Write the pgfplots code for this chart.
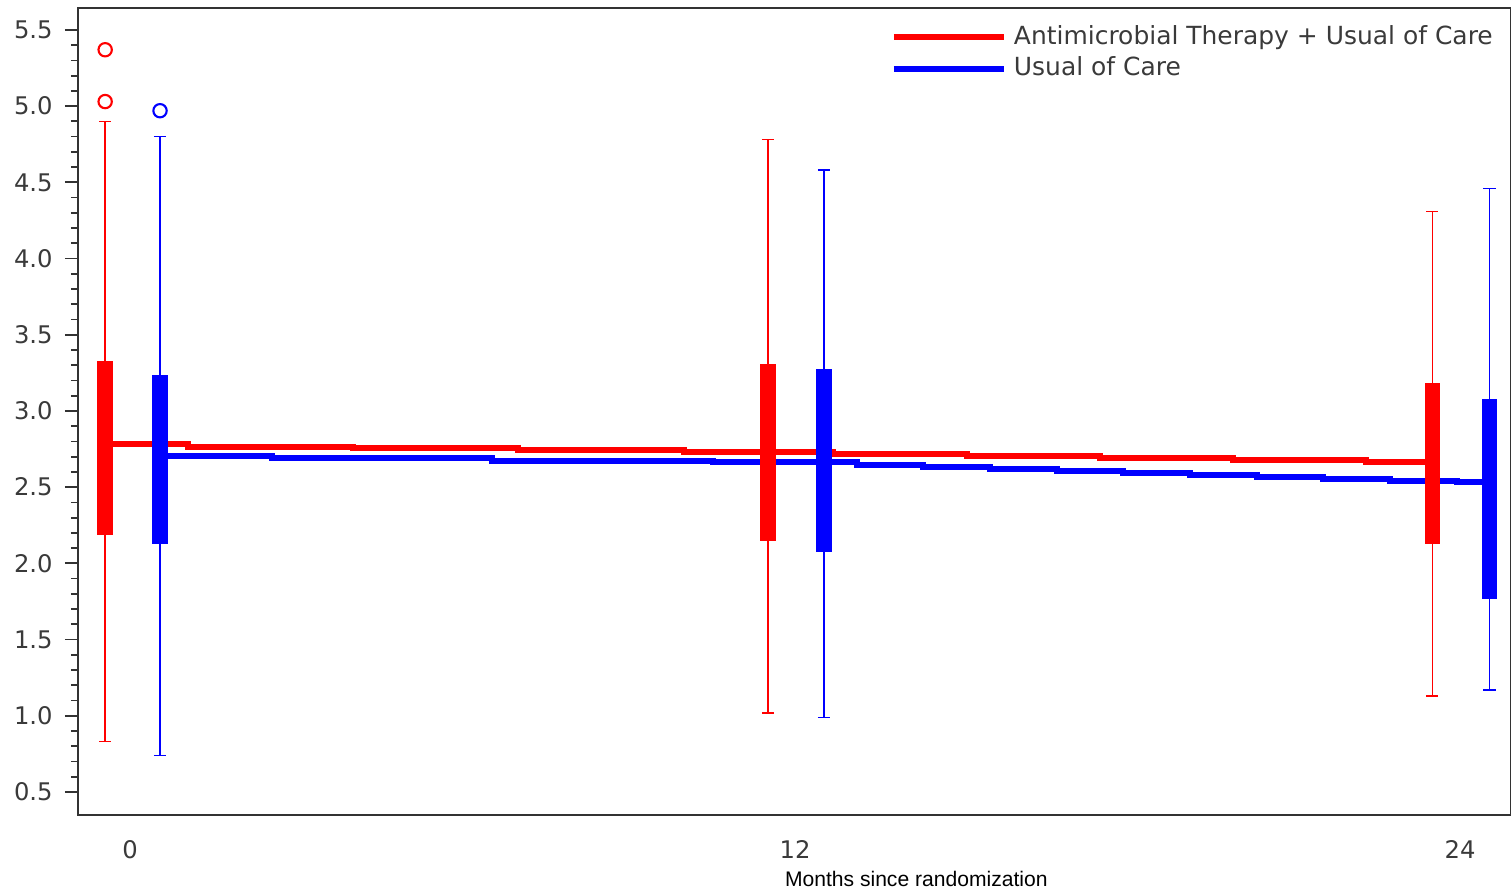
\documentclass[border=0pt]{standalone}
\usepackage{fontspec}
\setmainfont{DejaVu Sans}
\newfontfamily\arialfont{Liberation Sans}
\usepackage{pgfplots}
\usepgfplotslibrary{statistics}
\pgfplotsset{compat=1.18}

\definecolor{axgray}{HTML}{333333}
\definecolor{lblgray}{HTML}{3A3A3A}

\begin{document}
\begin{tikzpicture}
\useasboundingbox (-7.8mm,-7.8mm) rectangle (143.3mm,81.5mm);
\begin{axis}[
  at={(0,0)}, anchor=south west,
  scale only axis, width=143.3mm, height=80.7mm,
  xmin=-0.94, xmax=24.92, ymin=0.349, ymax=5.644,
  xtick={0,12,24},
  ytick={0.5,1.0,1.5,2.0,2.5,3.0,3.5,4.0,4.5,5.0,5.5},
  minor y tick num=4,
  tick align=outside,
  major tick length=1.3mm, minor tick length=0.7mm,
  xtick style={draw=none},
  ytick style={axgray, line width=0.5pt},
  minor tick style={axgray, line width=0.5pt},
  axis line style={axgray, line width=0.6pt},
  /pgf/number format/assume math mode=true,
  yticklabel style={/pgf/number format/.cd, fixed, fixed zerofill, precision=1},
  tick label style={font=\fontsize{6.9}{8}\selectfont, text=lblgray},
  xlabel={Months since randomization},
  every axis x label/.style={at={(axis description cs:0.585,-0.079)}, anchor=center,
    font=\arialfont\fontsize{6}{7}\selectfont},
  legend style={draw=none, fill=none, at={(1.0,0.997)}, anchor=north east,
    font=\fontsize{7.1}{8.3}\selectfont, text=lblgray, row sep=-2pt},
  legend cell align=left,
  legend image code/.code={\draw[#1] (0mm,0mm) -- (11mm,0mm);},
  boxplot/draw direction=y,
]
% step lines (mean trajectories)
\addplot[const plot, red, line width=1.7pt] coordinates {
  (-0.45,2.784) (1.05,2.764) (4.02,2.757) (7.0,2.744) (10.0,2.731)
  (12.68,2.718) (15.1,2.705) (17.5,2.692) (19.9,2.678) (22.3,2.665) (23.5,2.665)
};
\addlegendentry{Antimicrobial Therapy + Usual of Care}
\addplot[const plot, blue, line width=1.7pt] coordinates {
  (0.54,2.705) (2.56,2.692) (6.53,2.672) (10.52,2.665) (13.12,2.646)
  (14.31,2.633) (15.52,2.619) (16.73,2.606) (17.92,2.593) (19.13,2.580)
  (20.34,2.567) (21.53,2.554) (22.74,2.541) (23.94,2.534) (24.52,2.534)
};
\addlegendentry{Usual of Care}

% box plots, red group
\addplot[forget plot, draw=red, line width=0.45pt, mark=o, mark size=1.9pt,
  mark options={line width=0.6pt},
  boxplot/every box/.style={draw=red, fill=red},
  boxplot prepared={draw position=-0.45, lower whisker=0.83, lower quartile=2.19,
    median=2.8, upper quartile=3.32, upper whisker=4.90,
    box extend=0.25, whisker extend=0.22}]
  table[row sep=\\, y index=0] {v\\5.37\\5.03\\};
\addplot[forget plot, draw=red, line width=0.45pt,
  boxplot/every box/.style={draw=red, fill=red},
  boxplot prepared={draw position=11.51, lower whisker=1.02, lower quartile=2.15,
    median=2.74, upper quartile=3.30, upper whisker=4.78,
    box extend=0.25, whisker extend=0.22}]
  coordinates {};
\addplot[forget plot, draw=red, line width=0.45pt,
  boxplot/every box/.style={draw=red, fill=red},
  boxplot prepared={draw position=23.5, lower whisker=1.13, lower quartile=2.13,
    median=2.67, upper quartile=3.18, upper whisker=4.31,
    box extend=0.25, whisker extend=0.22}]
  coordinates {};

% box plots, blue group
\addplot[forget plot, draw=blue, line width=0.45pt, mark=o, mark size=1.9pt,
  mark options={line width=0.6pt},
  boxplot/every box/.style={draw=blue, fill=blue},
  boxplot prepared={draw position=0.54, lower whisker=0.74, lower quartile=2.13,
    median=2.7, upper quartile=3.23, upper whisker=4.80,
    box extend=0.25, whisker extend=0.22}]
  table[row sep=\\, y index=0] {v\\4.97\\};
\addplot[forget plot, draw=blue, line width=0.45pt,
  boxplot/every box/.style={draw=blue, fill=blue},
  boxplot prepared={draw position=12.52, lower whisker=0.99, lower quartile=2.08,
    median=2.67, upper quartile=3.27, upper whisker=4.58,
    box extend=0.25, whisker extend=0.22}]
  coordinates {};
\addplot[forget plot, draw=blue, line width=0.45pt,
  boxplot/every box/.style={draw=blue, fill=blue},
  boxplot prepared={draw position=24.53, lower whisker=1.17, lower quartile=1.77,
    median=2.53, upper quartile=3.07, upper whisker=4.46,
    box extend=0.25, whisker extend=0.22}]
  coordinates {};
\end{axis}
\end{tikzpicture}
\end{document}
